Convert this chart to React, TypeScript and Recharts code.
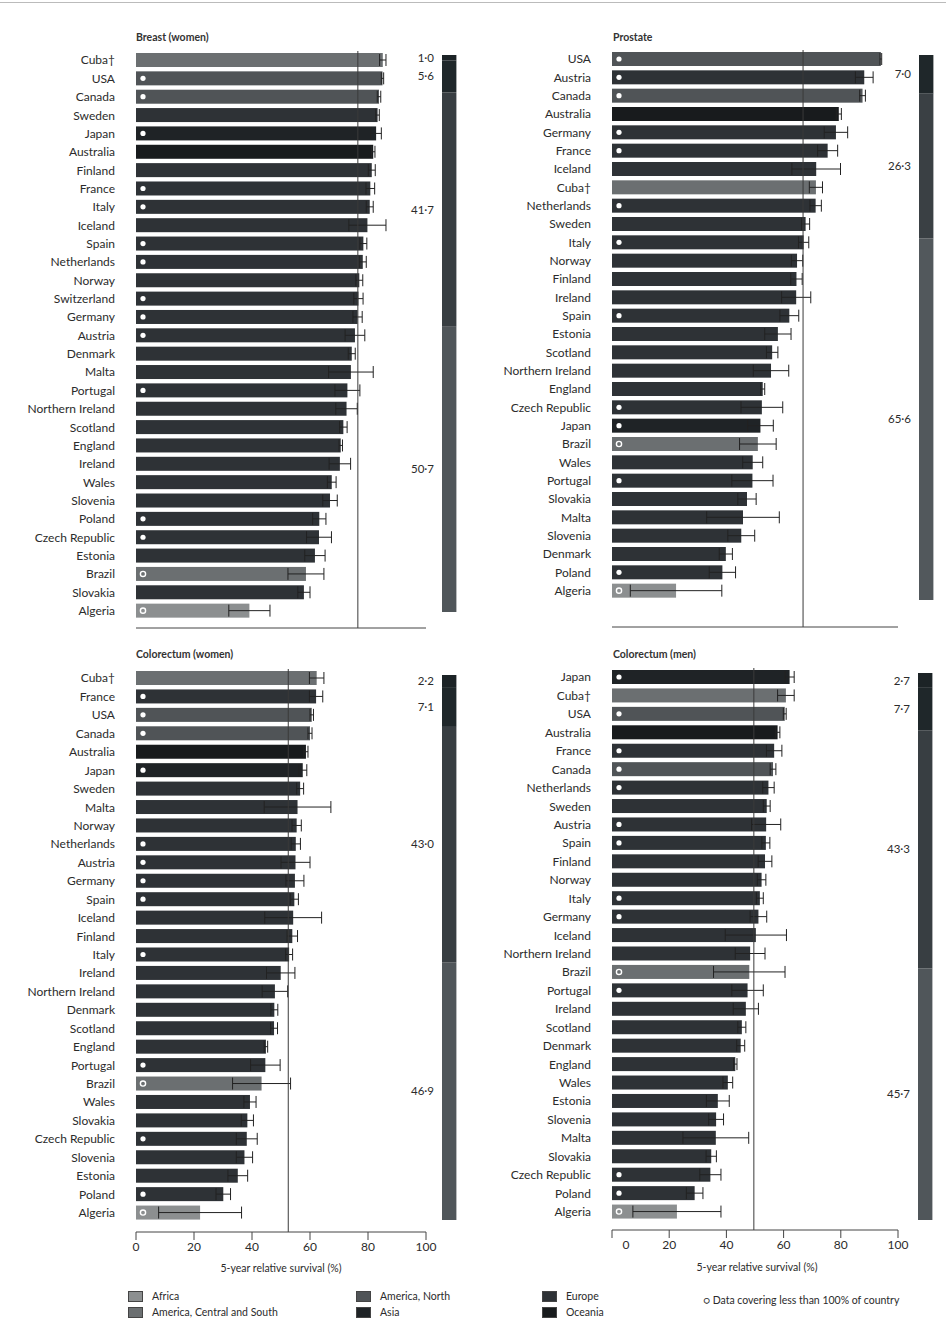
import React from "react";
import { BarChart, Bar, XAxis, YAxis, ErrorBar, ReferenceLine, LabelList } from "recharts";

const FONT = "Lato, 'Open Sans', sans-serif";
const INK = "#2b2b2b";

const regions = ["Africa", "America, Central and South", "America, North", "Asia", "Europe", "Oceania"];
const regionColors = ["#8c8f90", "#6b6f71", "#505457", "#1f2326", "#2e3236", "#181b1d"];

const xTicks = [0, 20, 40, 60, 80, 100];

// Breast (women)
const breastCountries = ["Cuba†", "USA", "Canada", "Sweden", "Japan", "Australia", "Finland", "France", "Italy", "Iceland", "Spain", "Netherlands", "Norway", "Switzerland", "Germany", "Austria", "Denmark", "Malta", "Portugal", "Northern Ireland", "Scotland", "England", "Ireland", "Wales", "Slovenia", "Poland", "Czech Republic", "Estonia", "Brazil", "Slovakia", "Algeria"];
const breastSurvival = [85.1, 85.0, 83.8, 83.3, 82.8, 81.8, 81.3, 80.8, 80.6, 79.8, 78.4, 78.2, 77.0, 76.7, 76.4, 75.5, 74.4, 74.1, 72.9, 72.6, 71.5, 70.6, 70.3, 67.5, 66.9, 63.2, 63.1, 61.7, 58.6, 57.9, 39.1];
const breastErr = [1.1, 0.4, 0.6, 0.6, 1.8, 0.6, 1.2, 1.5, 1.2, 6.4, 1.2, 1.2, 1.2, 1.6, 1.6, 3.4, 1.2, 7.7, 4.3, 3.7, 1.3, 0.6, 3.7, 1.5, 2.5, 2.3, 4.3, 3.5, 6.2, 2.1, 7.1];
const breastPartial = ["USA", "Canada", "Japan", "France", "Italy", "Spain", "Netherlands", "Switzerland", "Germany", "Austria", "Portugal", "Poland", "Czech Republic", "Brazil", "Algeria"];
const breastMean = 76.5;
const breastShares = [1.0, 5.6, 41.7, 50.7];

// Prostate
const prostateCountries = ["USA", "Austria", "Canada", "Australia", "Germany", "France", "Iceland", "Cuba†", "Netherlands", "Sweden", "Italy", "Norway", "Finland", "Ireland", "Spain", "Estonia", "Scotland", "Northern Ireland", "England", "Czech Republic", "Japan", "Brazil", "Wales", "Portugal", "Slovakia", "Malta", "Slovenia", "Denmark", "Poland", "Algeria"];
const prostateSurvival = [94.0, 88.2, 87.6, 79.3, 78.3, 75.4, 71.4, 71.3, 71.2, 67.7, 67.0, 64.7, 64.5, 64.4, 62.0, 58.0, 56.0, 55.6, 52.7, 52.4, 51.9, 51.0, 49.2, 49.1, 47.2, 45.8, 45.2, 39.8, 38.6, 22.4];
const prostateErr = [0.3, 3.1, 1.0, 0.9, 4.1, 3.5, 8.5, 2.3, 2.0, 1.4, 1.8, 2.0, 2.0, 5.1, 3.3, 4.6, 2.0, 6.2, 0.7, 7.3, 4.5, 6.4, 3.5, 7.2, 3.2, 12.7, 4.7, 2.3, 4.6, 16.0];
const prostatePartial = ["USA", "Austria", "Canada", "Germany", "France", "Netherlands", "Italy", "Spain", "Czech Republic", "Japan", "Brazil", "Portugal", "Poland", "Algeria"];
const prostateMean = 66.8;
const prostateShares = [7.0, 26.3, 65.6];

// Colorectum (women)
const crWomenCountries = ["Cuba†", "France", "USA", "Canada", "Australia", "Japan", "Sweden", "Malta", "Norway", "Netherlands", "Austria", "Germany", "Spain", "Iceland", "Finland", "Italy", "Ireland", "Northern Ireland", "Denmark", "Scotland", "England", "Portugal", "Brazil", "Wales", "Slovakia", "Czech Republic", "Slovenia", "Estonia", "Poland", "Algeria"];
const crWomenSurvival = [62.3, 62.1, 60.6, 60.0, 58.6, 57.5, 56.6, 55.7, 55.4, 55.1, 55.0, 54.8, 54.6, 54.2, 53.9, 52.8, 49.9, 47.9, 47.7, 47.6, 44.8, 44.6, 43.3, 39.3, 38.4, 38.2, 37.4, 35.1, 30.1, 22.1];
const crWomenErr = [2.5, 2.3, 0.6, 0.7, 0.7, 1.4, 1.2, 11.5, 1.6, 1.6, 5.0, 3.1, 1.4, 9.8, 1.8, 1.2, 4.9, 4.4, 1.2, 1.2, 0.6, 5.1, 10.0, 2.1, 2.1, 3.6, 2.8, 3.4, 2.5, 14.3];
const crWomenPartial = ["France", "USA", "Canada", "Japan", "Netherlands", "Austria", "Germany", "Spain", "Italy", "Portugal", "Brazil", "Czech Republic", "Poland", "Algeria"];
const crWomenMean = 52.5;
const crWomenShares = [2.2, 7.1, 43.0, 46.9];

// Colorectum (men)
const crMenCountries = ["Japan", "Cuba†", "USA", "Australia", "France", "Canada", "Netherlands", "Sweden", "Austria", "Spain", "Finland", "Norway", "Italy", "Germany", "Iceland", "Northern Ireland", "Brazil", "Portugal", "Ireland", "Scotland", "Denmark", "England", "Wales", "Estonia", "Slovenia", "Malta", "Slovakia", "Czech Republic", "Poland", "Algeria"];
const crMenSurvival = [62.1, 60.8, 60.4, 57.9, 56.7, 56.3, 54.7, 54.1, 53.9, 53.8, 53.5, 52.3, 51.7, 51.2, 50.3, 48.3, 48.0, 47.4, 46.8, 45.4, 45.0, 43.1, 40.5, 37.0, 36.4, 36.3, 34.7, 34.4, 28.9, 22.7];
const crMenErr = [1.6, 2.9, 0.5, 0.8, 2.7, 1.0, 2.0, 1.2, 5.1, 1.4, 2.4, 1.5, 1.2, 2.9, 10.7, 5.2, 12.5, 5.5, 4.4, 1.4, 1.4, 0.6, 1.7, 4.0, 2.6, 11.5, 1.8, 3.7, 2.9, 15.4];
const crMenPartial = ["Japan", "USA", "France", "Canada", "Netherlands", "Austria", "Spain", "Italy", "Germany", "Brazil", "Portugal", "Czech Republic", "Poland", "Algeria"];
const crMenMean = 49.6;
const crMenShares = [2.7, 7.7, 43.3, 45.7];

const shareColors4 = ["#1c2326", "#1f272a", "#383e42", "#50565a"];
const shareColors3 = ["#1f272a", "#3a4044", "#52585c"];

function regionIndex(country: string): number {
  if (country === "Algeria") return 0;
  if (country === "Cuba†" || country === "Brazil") return 1;
  if (country === "USA" || country === "Canada") return 2;
  if (country === "Japan") return 3;
  if (country === "Australia") return 5;
  return 4;
}

function fmt(v: number) {
  return v.toFixed(1).replace(".", "·");
}

function BarShape(props: any) {
  const { x, y, width, height, payload } = props;
  const r = regionIndex(payload.country);
  const light = r <= 1;
  return (
    <g>
      <rect x={x} y={y} width={width} height={height} fill={regionColors[r]} />
      {payload.partial ? (
        light ? (
          <circle cx={x + 7} cy={y + height / 2} r={2.6} fill="none" stroke="#fff" strokeWidth={1.4} />
        ) : (
          <circle cx={x + 7} cy={y + height / 2} r={2.6} fill="#fff" />
        )
      ) : null}
    </g>
  );
}

function ShiftedTick(props: any) {
  const { x, y, payload } = props;
  const dx = payload.value === 0 ? 14 : 0;
  return (
    <text x={x + dx} y={y} dy="0.71em" textAnchor="middle" fontSize={12} fill={INK} fontFamily={FONT}>
      {payload.value}
    </text>
  );
}

interface PanelProps {
  countries: string[];
  survival: number[];
  err: number[];
  partial: string[];
  mean: number;
  left: number;
  top: number;
  yAxisWidth: number;
  marginTop: number;
  plotHeight: number;
  padBottom: number;
  showTicks: boolean;
  shiftZero?: boolean;
}

function Panel(p: PanelProps) {
  const rows = p.countries.map((c, i) => ({
    country: c,
    survival: p.survival[i],
    err: p.err[i],
    partial: p.partial.includes(c),
  }));
  const plotWidth = p.shiftZero ? 286 : 290;
  const xh = 30;
  return (
    <div style={{ position: "absolute", left: p.left, top: p.top }}>
      <BarChart
        layout="vertical"
        width={p.yAxisWidth + plotWidth + 12}
        height={p.marginTop + p.plotHeight + xh}
        data={rows}
        margin={{ top: p.marginTop, right: 12, bottom: 0, left: 0 }}
        barSize={14}
      >
        <XAxis
          type="number"
          domain={[0, 100]}
          ticks={xTicks}
          height={xh}
          axisLine={{ stroke: "#444" }}
          tickLine={{ stroke: "#444" }}
          tickSize={8}
          tickMargin={2}
          tick={p.showTicks ? (p.shiftZero ? <ShiftedTick /> : { fontSize: 12, fill: INK, fontFamily: FONT }) : false}
        />
        <YAxis
          type="category"
          dataKey="country"
          width={p.yAxisWidth}
          axisLine={false}
          tickLine={false}
          tickSize={0}
          tickMargin={21}
          interval={0}
          padding={{ top: 0, bottom: p.padBottom }}
          tick={{ fontSize: 12, fill: INK, fontFamily: FONT }}
        />
        <Bar dataKey="survival" shape={<BarShape />} isAnimationActive={false}>
          <ErrorBar dataKey="err" direction="x" width={6} stroke="#222" strokeWidth={1} />
        </Bar>
        <ReferenceLine x={p.mean} stroke="#3a3a3a" strokeWidth={1} />
      </BarChart>
    </div>
  );
}

function ShareBar({ values, colors, left, top, height }: { values: number[]; colors: string[]; left: number; top: number; height: number }) {
  const row: Record<string, number | string> = { name: "share" };
  values.forEach((v, i) => (row["s" + i] = v));
  const total = values.reduce((a, b) => a + b, 0);
  const order = values.map((_, i) => i).reverse();
  const pad = 12;
  return (
    <div style={{ position: "absolute", left, top: top - pad }}>
      <BarChart width={60} height={height + 2 * pad} data={[row]} margin={{ top: pad, right: 0, bottom: pad, left: 44 }} barCategoryGap={0}>
        <XAxis dataKey="name" hide />
        <YAxis hide domain={[0, total]} />
        {order.map((i) => (
          <Bar key={i} dataKey={"s" + i} stackId="a" fill={colors[i]} barSize={16} isAnimationActive={false}>
            <LabelList
              dataKey={"s" + i}
              position="left"
              offset={8}
              formatter={(v: any) => fmt(Number(v))}
              style={{ fontSize: 11.5, fill: INK, fontFamily: FONT }}
            />
          </Bar>
        ))}
      </BarChart>
    </div>
  );
}

const titleStyle: React.CSSProperties = {
  position: "absolute",
  fontFamily: FONT,
  fontWeight: 700,
  fontSize: 10.5,
  color: "#333",
  whiteSpace: "nowrap",
};

const axisTitleStyle: React.CSSProperties = {
  position: "absolute",
  fontFamily: FONT,
  fontSize: 10.5,
  color: INK,
  width: 290,
  textAlign: "center",
};

function LegendItem({ color, label, left, top }: { color: string; label: string; left: number; top: number }) {
  return (
    <div style={{ position: "absolute", left, top, display: "flex", alignItems: "center", fontFamily: FONT, fontSize: 10.5, color: INK, whiteSpace: "nowrap" }}>
      <span style={{ display: "inline-block", width: 13, height: 9, background: color, border: "1px solid #444", marginRight: 9 }} />
      {label}
    </div>
  );
}

export default function App() {
  return (
    <div style={{ position: "absolute", left: 0, top: 0, width: 946, height: 1326, background: "#fff", overflow: "hidden" }}>
      <div style={{ position: "absolute", left: 0, top: 2, width: 946, borderTop: "1px solid #bbb" }} />

      <div style={{ ...titleStyle, left: 136, top: 31 }}>Breast (women)</div>
      <div style={{ ...titleStyle, left: 613, top: 31 }}>Prostate</div>
      <div style={{ ...titleStyle, left: 136, top: 648 }}>Colorectum (women)</div>
      <div style={{ ...titleStyle, left: 613, top: 648 }}>Colorectum (men)</div>

      <Panel countries={breastCountries} survival={breastSurvival} err={breastErr} partial={breastPartial} mean={breastMean}
        left={0} top={0} yAxisWidth={136} marginTop={51} plotHeight={577} padBottom={8} showTicks={false} />
      <Panel countries={prostateCountries} survival={prostateSurvival} err={prostateErr} partial={prostatePartial} mean={prostateMean}
        left={470} top={0} yAxisWidth={142} marginTop={50} plotHeight={577} padBottom={27} showTicks={false} shiftZero />
      <Panel countries={crWomenCountries} survival={crWomenSurvival} err={crWomenErr} partial={crWomenPartial} mean={crWomenMean}
        left={0} top={640} yAxisWidth={136} marginTop={29} plotHeight={563} padBottom={10} showTicks />
      <Panel countries={crMenCountries} survival={crMenSurvival} err={crMenErr} partial={crMenPartial} mean={crMenMean}
        left={470} top={640} yAxisWidth={142} marginTop={28} plotHeight={562} padBottom={9} showTicks shiftZero />

      <ShareBar values={breastShares} colors={shareColors4} left={397} top={55} height={557} />
      <ShareBar values={prostateShares} colors={shareColors3} left={874} top={55} height={545} />
      <ShareBar values={crWomenShares} colors={shareColors4} left={397} top={675} height={545} />
      <ShareBar values={crMenShares} colors={shareColors4} left={873} top={673} height={547} />

      <div style={{ ...axisTitleStyle, left: 136, top: 1262 }}>5-year relative survival (%)</div>
      <div style={{ ...axisTitleStyle, left: 612, top: 1261 }}>5-year relative survival (%)</div>

      <LegendItem color={regionColors[0]} label={regions[0]} left={128} top={1290} />
      <LegendItem color={regionColors[1]} label={regions[1]} left={128} top={1306} />
      <LegendItem color={regionColors[2]} label={regions[2]} left={356} top={1290} />
      <LegendItem color={regionColors[3]} label={regions[3]} left={356} top={1306} />
      <LegendItem color={regionColors[4]} label={regions[4]} left={542} top={1290} />
      <LegendItem color={regionColors[5]} label={regions[5]} left={542} top={1306} />
      <div style={{ position: "absolute", left: 703, top: 1294, fontFamily: FONT, fontSize: 10.5, color: INK, whiteSpace: "nowrap" }}>
        ○ Data covering less than 100% of country
      </div>
    </div>
  );
}
